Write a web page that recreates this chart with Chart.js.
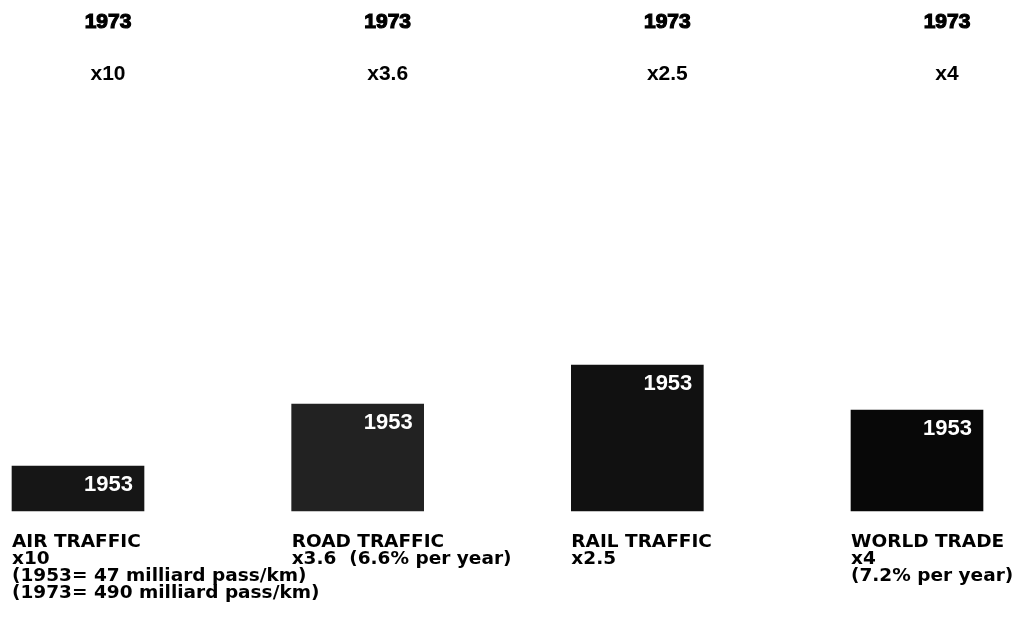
<!DOCTYPE html>
<html>
<head>
<meta charset="utf-8">
<title>Traffic growth 1953-1973</title>
<script src="https://cdn.jsdelivr.net/npm/chart.js@4/dist/chart.umd.min.js"></script>
<style>
  html, body { margin: 0; padding: 0; background: #fff; }
  #wrap { width: 1018px; height: 627px; position: relative; }
</style>
</head>
<body>
<div id="wrap"><canvas id="chart"></canvas></div>
<script>
// 1953 level of each activity (relative index)
const categories = ['AIR TRAFFIC', 'ROAD TRAFFIC', 'RAIL TRAFFIC', 'WORLD TRADE'];
const values1953 = [45, 107, 146, 101];
const growth = ['x10', 'x3.6', 'x2.5', 'x4'];
const notes = [
  ['x10', '(1953= 47 milliard pass/km)', '(1973= 490 milliard pass/km)'],
  ['x3.6  (6.6% per year)'],
  ['x2.5'],
  ['x4', '(7.2% per year)']
];
const barColors = ['#161616', '#222222', '#111111', '#080808'];

const FONT = '"Liberation Sans", Arial, sans-serif';
const CAPTION_FONT = '"DejaVu Sans", Verdana, sans-serif';

// text around the boxes: 1973 / multiplier on top, year inside, captions below
const labelPlugin = {
  id: 'labels',
  afterDatasetsDraw(chart) {
    const ctx = chart.ctx;
    const meta = chart.getDatasetMeta(0);
    ctx.save();
    meta.data.forEach((bar, i) => {
      const half = bar.width / 2;
      const left = bar.x - half;

      // top: 1973 and multiplier
      ctx.fillStyle = '#000';
      ctx.textAlign = 'center';
      ctx.textBaseline = 'alphabetic';
      ctx.font = 'bold 21px ' + FONT;
      ctx.strokeStyle = '#000';
      ctx.lineWidth = 1.2;
      ctx.fillText('1973', bar.x + 30, 28);
      ctx.strokeText('1973', bar.x + 30, 28);
      ctx.font = 'bold 21px ' + FONT;
      ctx.fillText(growth[i], bar.x + 30, 80);

      // inside the box
      ctx.fillStyle = '#fff';
      ctx.textAlign = 'right';
      ctx.font = 'bold 22px ' + FONT;
      ctx.fillText('1953', bar.x + half - 11, bar.y + 25);

      // captions under the box
      ctx.fillStyle = '#000';
      ctx.textAlign = 'left';
      ctx.font = 'bold 18.5px ' + CAPTION_FONT;
      const lines = [categories[i]].concat(notes[i]);
      lines.forEach((t, j) => {
        ctx.fillText(t, left, bar.base + 36 + j * 17);
      });
    });
    ctx.restore();
  }
};

new Chart(document.getElementById('chart'), {
  type: 'bar',
  data: {
    labels: categories,
    datasets: [{
      label: '1953',
      data: values1953,
      backgroundColor: barColors,
      borderWidth: 0,
      barThickness: 132,
      clip: false
    }]
  },
  options: {
    responsive: true,
    maintainAspectRatio: false,
    animation: false,
    layout: { padding: { left: 78, right: 101, top: 11, bottom: 116 } },
    plugins: {
      legend: { display: false },
      tooltip: { enabled: false }
    },
    scales: {
      x: { display: false, offset: false, grid: { display: false } },
      y: { display: false, min: 0, max: 500 }
    }
  },
  plugins: [labelPlugin]
});
</script>
</body>
</html>
